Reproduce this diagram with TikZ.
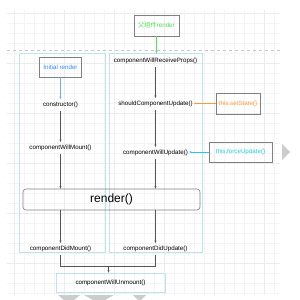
\documentclass[tikz,border=0pt]{standalone}
\usepackage{fontspec}
\setmainfont{Liberation Sans}
\newfontfamily\cjk{Noto Sans CJK SC}
\usetikzlibrary{arrows.meta}
\definecolor{gridc}{HTML}{F4F4F4}
\definecolor{gridm}{HTML}{ECECEC}
\definecolor{contc}{HTML}{BFE3EE}
\definecolor{boxc}{HTML}{808080}
\definecolor{arrc}{HTML}{555555}
\definecolor{greenc}{HTML}{55DD55}
\definecolor{bluec}{HTML}{3388EE}
\definecolor{orangec}{HTML}{FF9933}
\definecolor{cyanc}{HTML}{22CCDD}
\tikzset{
  gridline/.style={draw=gridc, line width=0.3pt},
  gridmajor/.style={draw=gridm, line width=0.3pt},
  container/.style={draw=contc, line width=0.6pt},
  txt/.style={font=\fontsize{6.2}{7}\selectfont, inner xsep=1pt, inner ysep=3pt},
  framebox/.style={draw=boxc, line width=0.6pt, font=\fontsize{6.2}{7}\selectfont, inner sep=0pt},
  arr/.style={draw=arrc, line width=0.5pt, -{Stealth[length=2.5pt,width=2pt]}},
  plainline/.style={draw=arrc, line width=0.5pt},
  deco/.style={fill=black!20, draw=none}
}
\begin{document}
\begin{tikzpicture}[x=1pt,y=-1pt]
\useasboundingbox (0,0) rectangle (300,300);
\fill[white] (0,0) rectangle (300,300);
% grid
\foreach \x in {14.5,24.5,...,274.5} \draw[gridline] (\x,10) -- (\x,295);
\foreach \y in {13.5,23.5,...,293.5} \draw[gridline] (7,\y) -- (280,\y);
\foreach \x in {14.5,64.5,...,264.5} \draw[gridmajor] (\x,10) -- (\x,295);
\foreach \y in {13.5,63.5,...,263.5} \draw[gridmajor] (7,\y) -- (280,\y);
\draw[black!22, dashed, line width=0.4pt] (7,50.5) -- (280,50.5);
% containers
\draw[container] (19.5,53.5) rectangle (105.5,252.5);
\draw[container] (109.5,53.5) rectangle (202.5,252.5);
\coordinate (rtop) at (156.5,53.5);
% top box
\node[framebox, text=greenc, minimum width=45pt, minimum height=21pt] (parent) at (156.5,25.5) {{\cjk 父组件}render};
\draw[line width=0.5pt, -{Stealth[length=2.5pt,width=2pt]}, draw=greenc, color=greenc] (parent.south) -- (rtop);
% left column
\node[framebox, text=bluec, minimum width=42pt, minimum height=20pt] (init) at (60.5,67) {Initial render};
\node[txt] (ctor) at (60.5,105) {constructor()};
\node[txt] (cwm) at (60.5,148) {componentWillMount()};
\node[draw=boxc, line width=0.6pt, rounded corners=3pt, minimum width=177pt, minimum height=21pt, inner sep=0pt, font=\fontsize{12}{14}\selectfont] (render) at (111.5,199.5) {render()};
\node[txt] (cdm) at (60.5,249) {componentDidMount()};
\draw[arr, draw=bluec!70, color=bluec!70] (init.south) -- (ctor);
\draw[arr] (ctor) -- (cwm);
\draw[arr] (cwm) -- (cwm |- render.north);
\draw[arr] (render.south -| cdm) -- (cdm);
% right column
\node[txt] (cwrp) at (155.5,61) {componentWillReceiveProps()};
\node[txt] (scu) at (155.5,104) {shouldComponentUpdate()};
\node[txt] (cwu) at (155.5,153) {componentWillUpdate()};
\node[txt] (cdu) at (155.5,249) {componentDidUpdate()};
\draw[arr] (cwrp) -- (scu);
\draw[arr] (scu) -- (cwu);
\draw[arr] (cwu) -- (cwu |- render.north);
\draw[arr] (render.south -| cdu) -- (cdu);
% side boxes
\node[framebox, text=orangec, minimum width=44pt, minimum height=21pt] (setst) at (238,103.5) {this.setState()};
\node[framebox, text=cyanc, minimum width=63pt, minimum height=20pt] (force) at (240.5,152) {this.forceUpdate()};
\draw[arr, draw=orangec, color=orangec] (setst.west) -- (setst.west -| scu.east);
\draw[arr, draw=cyanc, color=cyanc] (force.west) -- (force.west -| cwu.east);
% bottom
\coordinate (j) at (108.5,266.5);
\node[draw=contc, line width=0.6pt, minimum width=109pt, minimum height=19pt, inner sep=0pt, font=\fontsize{6.2}{7}\selectfont] (unmount) at (110.5,282.5) {componentWillUnmount()};
\draw[plainline] (cdm.south) -- (cdm.south |- j) -- (cdu.south |- j) -- (cdu.south);
\draw[arr] (j) -- (j |- unmount.north);
% decorations (page artifacts)
\fill[deco] (282,144) -- (290,152) -- (282,160) -- cycle;
\fill[deco] (58,295) -- (80,295) -- (74,300) -- (64,300) -- cycle;
\fill[deco] (84,295) -- (114,295) -- (105,300) -- (93,300) -- cycle;
\fill[deco] (133,295) -- (146,295) -- (141,300) -- (138,300) -- cycle;
\end{tikzpicture}
\end{document}
